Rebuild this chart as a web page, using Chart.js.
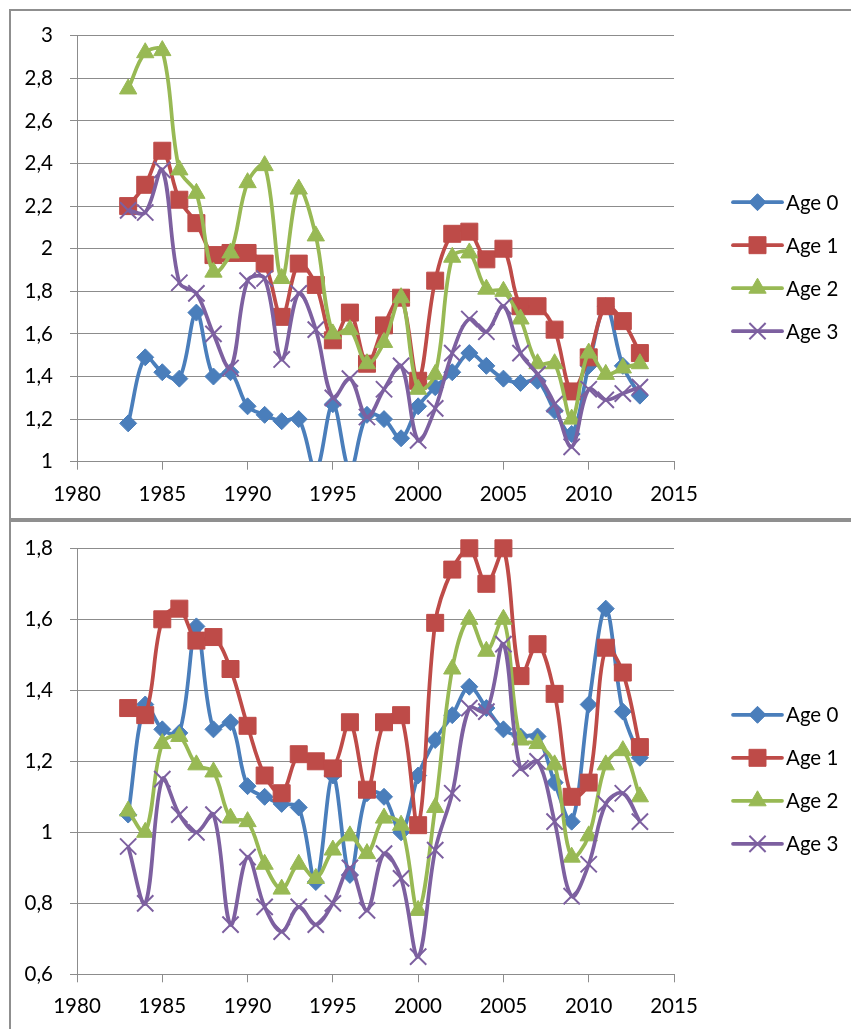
<!DOCTYPE html>
<html>
<head>
<meta charset="utf-8">
<script src="https://cdn.jsdelivr.net/npm/chart.js@4.4.1/dist/chart.umd.min.js"></script>
<style>
  html, body { margin: 0; padding: 0; background: #fff; width: 851px; height: 1029px; overflow: hidden; }
  .frame { position: absolute; left: 9px; width: 840px; border: 2px solid #8f8f8f; background: #fff; }
  #f1 { top: 9px; height: 507px; }
  #f2 { top: 520px; height: 520px; }
  canvas { display: block; }
</style>
</head>
<body>
<div class="frame" id="f1"><canvas id="c1" width="840" height="507" style="width:840px;height:507px"></canvas></div>
<div class="frame" id="f2"><canvas id="c2" width="840" height="520" style="width:840px;height:520px"></canvas></div>

<script>
// Years on the horizontal axis
const years = [1983, 1984, 1985, 1986, 1987, 1988, 1989, 1990, 1991, 1992,
               1993, 1994, 1995, 1996, 1997, 1998, 1999, 2000, 2001, 2002,
               2003, 2004, 2005, 2006, 2007, 2008, 2009, 2010, 2011, 2012, 2013];

const seriesNames = ['Age 0', 'Age 1', 'Age 2', 'Age 3'];

// Upper panel
const upperAge0 = [1.18, 1.49, 1.42, 1.39, 1.70, 1.40, 1.42, 1.26, 1.22, 1.19,
                   1.20, 0.96, 1.27, 0.96, 1.22, 1.20, 1.11, 1.26, 1.35, 1.42,
                   1.51, 1.45, 1.39, 1.37, 1.38, 1.24, 1.13, 1.45, 1.73, 1.45, 1.31];
const upperAge1 = [2.20, 2.30, 2.46, 2.23, 2.12, 1.97, 1.98, 1.98, 1.93, 1.68,
                   1.93, 1.83, 1.57, 1.70, 1.46, 1.64, 1.77, 1.38, 1.85, 2.07,
                   2.08, 1.95, 2.00, 1.73, 1.73, 1.62, 1.33, 1.49, 1.73, 1.66, 1.51];
const upperAge2 = [2.75, 2.92, 2.93, 2.37, 2.26, 1.89, 1.98, 2.31, 2.39, 1.86,
                   2.28, 2.06, 1.60, 1.62, 1.46, 1.56, 1.77, 1.34, 1.41, 1.96,
                   1.98, 1.81, 1.80, 1.67, 1.46, 1.46, 1.20, 1.51, 1.41, 1.44, 1.46];
const upperAge3 = [2.18, 2.17, 2.37, 1.84, 1.79, 1.60, 1.44, 1.85, 1.86, 1.48,
                   1.79, 1.62, 1.30, 1.39, 1.21, 1.34, 1.45, 1.10, 1.25, 1.51,
                   1.67, 1.61, 1.73, 1.51, 1.41, 1.27, 1.07, 1.34, 1.29, 1.32, 1.35];

// Lower panel
const lowerAge0 = [1.05, 1.36, 1.29, 1.28, 1.58, 1.29, 1.31, 1.13, 1.10, 1.08,
                   1.07, 0.86, 1.16, 0.88, 1.11, 1.10, 1.00, 1.16, 1.26, 1.33,
                   1.41, 1.35, 1.29, 1.27, 1.27, 1.14, 1.03, 1.36, 1.63, 1.34, 1.21];
const lowerAge1 = [1.35, 1.33, 1.60, 1.63, 1.54, 1.55, 1.46, 1.30, 1.16, 1.11,
                   1.22, 1.20, 1.18, 1.31, 1.12, 1.31, 1.33, 1.02, 1.59, 1.74,
                   1.80, 1.70, 1.80, 1.44, 1.53, 1.39, 1.10, 1.14, 1.52, 1.45, 1.24];
const lowerAge2 = [1.06, 1.00, 1.25, 1.27, 1.19, 1.17, 1.04, 1.03, 0.91, 0.84,
                   0.91, 0.87, 0.95, 0.99, 0.94, 1.04, 1.02, 0.78, 1.07, 1.46,
                   1.60, 1.51, 1.60, 1.26, 1.25, 1.19, 0.93, 0.99, 1.19, 1.23, 1.10];
const lowerAge3 = [0.96, 0.80, 1.15, 1.05, 1.00, 1.05, 0.74, 0.93, 0.79, 0.72,
                   0.79, 0.74, 0.80, 0.90, 0.78, 0.94, 0.87, 0.65, 0.95, 1.11,
                   1.35, 1.34, 1.53, 1.18, 1.20, 1.03, 0.82, 0.91, 1.08, 1.11, 1.03];

// Axis tick values
const xTicks = [1980, 1985, 1990, 1995, 2000, 2005, 2010, 2015];
const upperYTicks = [1, 1.2, 1.4, 1.6, 1.8, 2, 2.2, 2.4, 2.6, 2.8, 3];
const lowerYTicks = [0.6, 0.8, 1, 1.2, 1.4, 1.6, 1.8];

const FONT = 'Lato, "Open Sans", "Liberation Sans", sans-serif';
const FONT_SIZE = 20.5;
const GRID = '#8c8c8c';

const styles = [
  { color: '#4a7ebb', pointStyle: 'rectRot',  radius: 8.5, pbw: 1 },
  { color: '#be4b48', pointStyle: 'rect',     radius: 12,  pbw: 1 },
  { color: '#98b954', pointStyle: 'triangle', radius: 10,  pbw: 1 },
  { color: '#7d60a0', pointStyle: 'crossRot', radius: 11.5, pbw: 2 }
];

const fmt = v => String(Math.round(v * 10) / 10).replace('.', ',');

// Legend drawn to the right of the plot: a line segment with the series marker, then the name
const sideLegend = {
  id: 'sideLegend',
  afterDraw(chart, args, opts) {
    const ctx = chart.ctx;
    const ca = chart.chartArea;
    ctx.save();
    chart.data.datasets.forEach((ds, i) => {
      const y = ca.top + opts.top + i * opts.gap;
      const x0 = ca.right + opts.offset;
      ctx.strokeStyle = ds.borderColor;
      ctx.lineWidth = ds.borderWidth;
      ctx.lineCap = 'round';
      ctx.beginPath();
      ctx.moveTo(x0, y);
      ctx.lineTo(x0 + opts.len, y);
      ctx.stroke();
      ctx.lineCap = 'butt';
      ctx.fillStyle = ds.pointBackgroundColor;
      ctx.strokeStyle = ds.pointBorderColor;
      ctx.lineWidth = ds.pointBorderWidth;
      Chart.helpers.drawPoint(ctx, {
        pointStyle: ds.pointStyle,
        radius: ds.pointRadius,
        borderWidth: ds.pointBorderWidth,
        rotation: 0
      }, x0 + opts.len / 2, y);
      ctx.fillStyle = '#000';
      ctx.font = FONT_SIZE + 'px ' + FONT;
      ctx.textAlign = 'left';
      ctx.textBaseline = 'middle';
      ctx.fillText(ds.label, x0 + opts.len + 4, y + 1);
    });
    ctx.restore();
  }
};

function makeChart(canvasId, seriesList, yTicks, yMin, yMax, padTop) {
  const canvas = document.getElementById(canvasId);
  const areaH = 426;
  const xAxisH = canvas.height - padTop - areaH;
  const datasets = seriesList.map((vals, i) => ({
    label: seriesNames[i],
    data: years.map((yr, k) => ({ x: yr, y: vals[k] })),
    borderColor: styles[i].color,
    backgroundColor: styles[i].color,
    borderWidth: 3.75,
    tension: 0.35,
    pointStyle: styles[i].pointStyle,
    pointRadius: styles[i].radius,
    pointHoverRadius: styles[i].radius,
    pointBackgroundColor: styles[i].color,
    pointBorderColor: styles[i].color,
    pointBorderWidth: styles[i].pbw,
    order: seriesList.length - i,
    clip: { left: 20, right: 20, top: 20, bottom: 0 }
  }));

  return new Chart(canvas, {
    type: 'line',
    data: { datasets },
    plugins: [sideLegend],
    options: {
      responsive: false,
      animation: false,
      events: [],
      layout: { padding: { top: padTop, right: 177, left: 0, bottom: 0 } },
      plugins: {
        legend: { display: false },
        tooltip: { enabled: false },
        sideLegend: { top: 166.5, gap: 43, offset: 59, len: 49 }
      },
      scales: {
        x: {
          type: 'linear',
          min: 1980,
          max: 2015,
          afterFit: s => { s.height = xAxisH; s.paddingLeft = 0; s.paddingRight = 0; },
          afterBuildTicks: s => { s.ticks = xTicks.map(v => ({ value: v })); },
          grid: { drawOnChartArea: false, drawTicks: true, tickLength: 8, color: GRID, lineWidth: 1 },
          border: { display: true, color: GRID, width: 1 },
          ticks: {
            color: '#000',
            font: { family: FONT, size: FONT_SIZE },
            padding: 12,
            maxRotation: 0,
            autoSkip: false,
            callback: v => String(v)
          }
        },
        y: {
          type: 'linear',
          min: yMin,
          max: yMax,
          afterFit: s => { s.width = 66; s.paddingTop = 0; s.paddingBottom = 0; },
          afterBuildTicks: s => { s.ticks = yTicks.map(v => ({ value: v })); },
          grid: { drawOnChartArea: true, drawTicks: true, tickLength: 7, color: GRID, lineWidth: 1 },
          border: { display: true, color: GRID, width: 1 },
          ticks: {
            color: '#000',
            font: { family: FONT, size: FONT_SIZE },
            padding: 17,
            autoSkip: false,
            callback: v => fmt(v)
          }
        }
      }
    }
  });
}

function build() {
  makeChart('c1', [upperAge0, upperAge1, upperAge2, upperAge3], upperYTicks, 1, 3, 24.7);
  makeChart('c2', [lowerAge0, lowerAge1, lowerAge2, lowerAge3], lowerYTicks, 0.6, 1.8, 26.3);
}

if (document.fonts && document.fonts.load) {
  document.fonts.load(FONT_SIZE + 'px Lato').then(build, build);
} else {
  build();
}
</script>
</body>
</html>
